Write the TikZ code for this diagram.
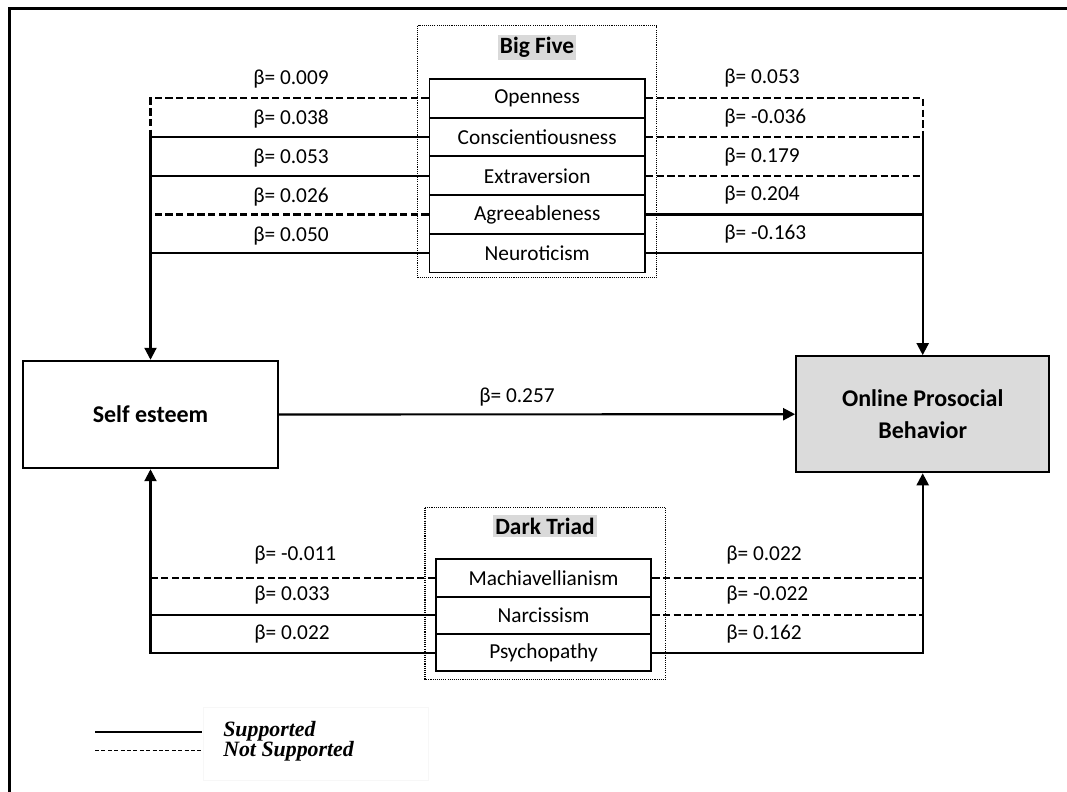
\documentclass[tikz,border=0pt]{standalone}
\usepackage{fontspec}
\setmainfont{Carlito}
\newfontfamily\legfont{Liberation Serif}
\usetikzlibrary{arrows.meta}
\begin{document}
\begin{tikzpicture}[x=0.75pt,y=-0.75pt,
  sup/.style={line width=1.6pt},
  ns/.style={line width=1.6pt,dash pattern=on 5.5pt off 2.5pt},
  arr/.style={-{Triangle[length=9pt,width=9pt]}},
  lbl/.style={font=\fontsize{16}{19}\selectfont,anchor=west,inner sep=0pt},
  item/.style={draw,line width=1.4pt,minimum width=161.6pt,minimum height=29pt,inner sep=0pt,font=\fontsize{16}{19}\selectfont},
  ditem/.style={item,minimum height=28pt},
  grp/.style={draw,line width=1.1pt,dash pattern=on 0.8pt off 0.8pt},
  title/.style={fill=black!15,inner xsep=1.5pt,inner ysep=2pt,font=\fontsize{17.5}{20}\selectfont\bfseries},
  main/.style={draw,line width=1.4pt,inner sep=0pt,align=center,font=\fontsize{18}{24}\selectfont\bfseries},
  leg/.style={anchor=west,inner sep=0pt,font=\fontsize{16.4}{18}\legfont\bfseries\itshape}]
\useasboundingbox (0,0) rectangle (1067,792);
% outer frame
\draw[line width=2.5pt] (9.7,800) -- (9.7,8.3) -- (1075,8.3);
% Big Five group
\draw[grp] (417.7,25.7) rectangle (656.7,277.7);
\node[title] (bigfive) at (537,47.5) {Big Five};
\node[item] (open) at (537.2,98.35) {Openness};
\node[item] (consc) at (537.2,137.05) {Conscientiousness};
\node[item] (extra) at (537.2,175.75) {Extraversion};
\node[item] (agree) at (537.2,214.45) {Agreeableness};
\node[item] (neuro) at (537.2,253.15) {Neuroticism};
% Dark Triad group
\draw[grp] (425,507.7) rectangle (665.7,679.3);
\node[title] (dark) at (545,526) {Dark Triad};
\node[ditem] (mach) at (543.5,578) {Machiavellianism};
\node[ditem] (narc) at (543.5,615.35) {Narcissism};
\node[ditem] (psych) at (543.5,652.65) {Psychopathy};
% main boxes
\node[main,minimum width=190.8pt,minimum height=80.7pt] (self) at (150.5,414.5) {Self esteem};
\node[main,fill=black!14,minimum width=190pt,minimum height=87.2pt] (opb) at (922.7,414.2) {Online Prosocial\\Behavior};
% Big Five -> Self esteem
\draw[ns] (open.west) -- (open.west -| self.north) -- (consc.west -| self.north);
\draw[sup] (consc.west) -- (consc.west -| self.north);
\draw[sup] (extra.west) -- (extra.west -| self.north);
\draw[ns] (agree.west) -- (agree.west -| self.north);
\draw[sup] (neuro.west) -- (neuro.west -| self.north);
\draw[sup,arr] (consc.west -| self.north) -- (self.north);
% Big Five -> OPB
\draw[ns] (open.east) -- (open.east -| opb.north) -- (consc.east -| opb.north);
\draw[ns] (consc.east) -- (consc.east -| opb.north);
\draw[ns] (extra.east) -- (extra.east -| opb.north);
\draw[sup] (agree.east) -- (agree.east -| opb.north);
\draw[sup] (neuro.east) -- (neuro.east -| opb.north);
\draw[sup,arr] (consc.east -| opb.north) -- (opb.north);
% Dark Triad -> Self esteem
\draw[ns] (mach.west) -- (mach.west -| self.south);
\draw[sup] (narc.west) -- (narc.west -| self.south);
\draw[sup,arr] (psych.west) -- (psych.west -| self.south) -- (self.south);
% Dark Triad -> OPB
\draw[ns] (mach.east) -- (mach.east -| opb.south);
\draw[ns] (narc.east) -- (narc.east -| opb.south);
\draw[sup,arr] (psych.east) -- (psych.east -| opb.south) -- (opb.south);
% Self esteem -> OPB
\draw[sup,arr] (self.east) -- (opb.west);
% labels
\node[lbl] (l1) at (253,79.5) {β= 0.009};
\node[lbl] (l2) at (253,119) {β= 0.038};
\node[lbl] (l3) at (253,158) {β= 0.053};
\node[lbl] (l4) at (253,197.5) {β= 0.026};
\node[lbl] (l5) at (253,236.5) {β= 0.050};
\node[lbl] (r1) at (724,78.5) {β= 0.053};
\node[lbl] (r2) at (724,118) {β= -0.036};
\node[lbl] (r3) at (724,157) {β= 0.179};
\node[lbl] (r4) at (724,195.5) {β= 0.204};
\node[lbl] (r5) at (724,234) {β= -0.163};
\node[lbl] (m1) at (479,397.5) {β= 0.257};
\node[lbl] (dl1) at (254,555.5) {β= -0.011};
\node[lbl] (dl2) at (254,595) {β= 0.033};
\node[lbl] (dl3) at (254,634) {β= 0.022};
\node[lbl] (dr1) at (726,555.5) {β= 0.022};
\node[lbl] (dr2) at (726,595) {β= -0.022};
\node[lbl] (dr3) at (726,634) {β= 0.162};
% legend
\draw[draw=black!3,line width=0.5pt] (203,707) rectangle (428,780);
\draw[line width=1.3pt] (95,731.7) -- (201.7,731.7);
\draw[line width=1.3pt,dash pattern=on 3pt off 1.8pt] (95,750.5) -- (201.7,750.5);
\node[leg] (ls) at (223,731) {Supported};
\node[leg] (ln) at (223,751) {Not Supported};
\end{tikzpicture}
\end{document}
